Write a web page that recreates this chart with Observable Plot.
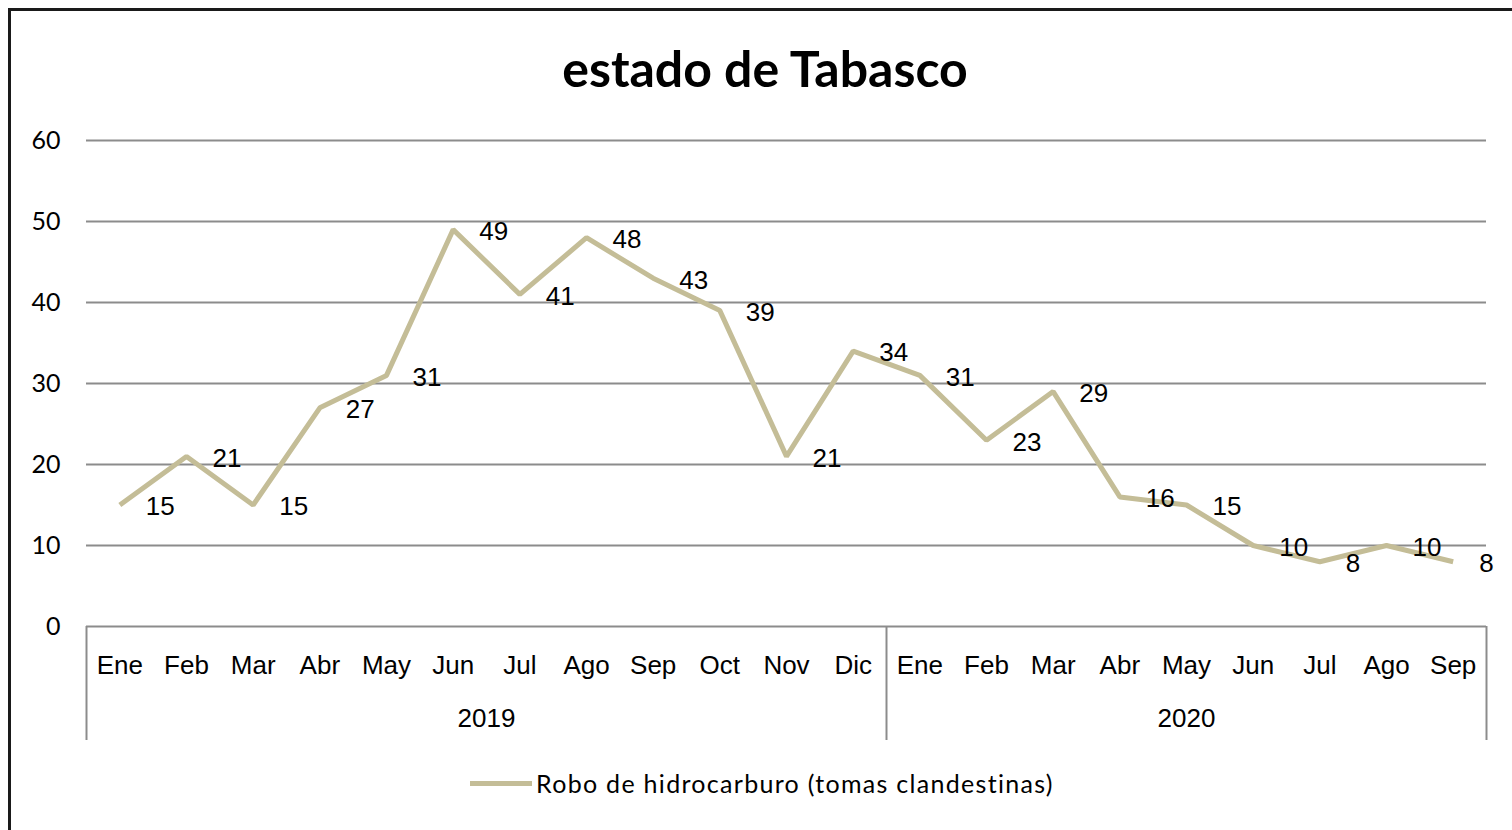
<!DOCTYPE html>
<html>
<head>
<meta charset="utf-8">
<script src="https://cdn.jsdelivr.net/npm/d3@7"></script>
<script src="https://cdn.jsdelivr.net/npm/@observablehq/plot@0.6"></script>
<style>
  html, body { margin: 0; padding: 0; background: #fff; overflow: hidden; }
  #wrap { position: relative; width: 1512px; height: 830px; }
  #frame { position: absolute; left: 8px; top: 8px; width: 1600px; height: 900px; border: 3px solid #1a1a1a; box-sizing: border-box; }
  #title { position: absolute; left: 0; width: 1530px; top: 38px; text-align: center; font-family: Lato, "Noto Sans", sans-serif; font-weight: bold; font-size: 50px; color: #000; line-height: 60px; }
  #chart { position: absolute; left: 0; top: 0; }
  #legend { position: absolute; left: 470px; top: 768px; height: 30px; display: flex; align-items: center; font-family: Lato, "Noto Sans", sans-serif; font-size: 25px; letter-spacing: 1.3px; color: #000; }
  #legend .sw { width: 62px; height: 5px; background: #c4bd97; margin-right: 4px; }
</style>
</head>
<body>
<div id="wrap">
  <div id="frame"></div>
  <div id="chart"></div>
  <div id="title">estado de Tabasco</div>
  <div id="legend"><span class="sw"></span><span>Robo de hidrocarburo (tomas clandestinas)</span></div>
</div>
<script>
const months = ["Ene","Feb","Mar","Abr","May","Jun","Jul","Ago","Sep","Oct","Nov","Dic",
                "Ene","Feb","Mar","Abr","May","Jun","Jul","Ago","Sep"];
const values = [15,21,15,27,31,49,41,48,43,39,21,34,
                31,23,29,16,15,10,8,10,8];
const years = ["2019","2020"];
const yearCounts = [12, 9];
const yTicks = [0,10,20,30,40,50,60];

const data = months.map((m, i) => ({i, month: m, value: values[i]}));
let start = 0;
const yearGroups = years.map((y, k) => {
  const g = {year: y, start: start - 0.5, end: start + yearCounts[k] - 0.5};
  start += yearCounts[k];
  return g;
});
const boundaries = [yearGroups[0].start, ...yearGroups.map(g => g.end)];

const sans = "'Liberation Sans', Arial, sans-serif";
const grid = "#8c8c8c";
const yRange = [626, 140];

const chart = Plot.plot({
  width: 1512,
  height: 830,
  marginLeft: 86,
  marginRight: 26,
  marginTop: 140,
  marginBottom: 90,
  x: {domain: [-0.5, months.length - 0.5], axis: null},
  y: {domain: [0, 60], range: yRange, axis: null},
  marks: [
    Plot.ruleY(yTicks, {stroke: grid, strokeWidth: 2}),
    Plot.ruleX(boundaries, {x: d => d, insetTop: yRange[0] - yRange[1], stroke: grid, strokeWidth: 2}),
    Plot.axisY({ticks: yTicks, tickSize: 0, tickPadding: 26, label: null,
                fontSize: 25, fontFamily: "Lato, 'Noto Sans', sans-serif", fill: "#000"}),
    Plot.text(data, {x: "i", y: 0, text: "month", dy: 39, fontSize: 26,
                     fontFamily: sans, fill: "#000"}),
    Plot.text(yearGroups, {x: d => (d.start + d.end) / 2, y: 0, text: "year", dy: 92,
                           fontSize: 26, fontFamily: sans, fill: "#000"}),
    Plot.line(data, {x: "i", y: "value", stroke: "#c4bd97", strokeWidth: 5,
                     strokeLinejoin: "miter", strokeLinecap: "butt"}),
    Plot.text(data, {x: "i", y: "value", text: d => String(d.value), dx: 26, dy: 2,
                     textAnchor: "start", fontSize: 26, fontFamily: sans, fill: "#000"})
  ]
});
chart.style.background = "transparent";
document.getElementById("chart").appendChild(chart);
</script>
</body>
</html>
